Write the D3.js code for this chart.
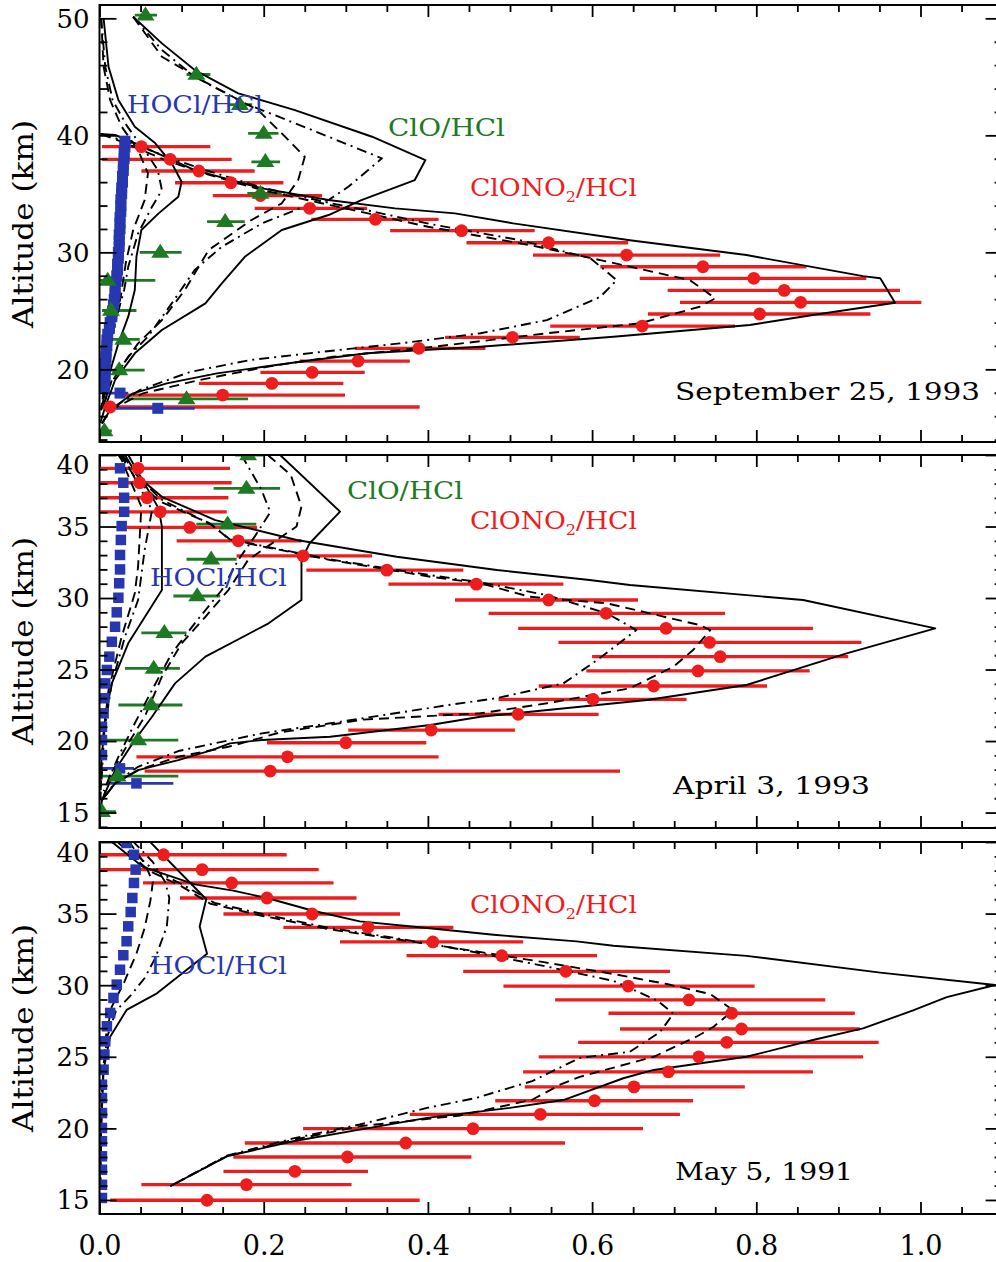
<!DOCTYPE html>
<html>
<head>
<meta charset="utf-8">
<script src="https://cdn.jsdelivr.net/npm/d3@7"></script>
<style>
  html, body { margin: 0; padding: 0; background: #ffffff; }
  svg { display: block; }
  text { font-family: "DejaVu Serif", "Liberation Serif", serif; }
</style>
</head>
<body>
<svg id="chart" width="996" height="1262"></svg>
<script>
// ---------------- axis ticks ----------------
const xTickValues = [0, 0.2, 0.4, 0.6, 0.8, 1.0];
const xTickLabels = ["0.0", "0.2", "0.4", "0.6", "0.8", "1.0"];
const sep93YTicks = [20, 30, 40, 50];
const apr93YTicks = [15, 20, 25, 30, 35, 40];
const may91YTicks = [15, 20, 25, 30, 35, 40];

// ---------------- September 25, 1993 ----------------
const sep93ClONO2Alt = [39.03, 37.95, 36.95, 35.95, 34.85, 33.76, 32.82, 31.85, 30.82, 29.77, 28.77, 27.78, 26.75, 25.73, 24.73, 23.70, 22.74, 21.80, 20.71, 19.74, 18.80, 17.80, 16.78];
const sep93ClONO2 = [0.051, 0.086, 0.121, 0.160, 0.196, 0.256, 0.336, 0.441, 0.547, 0.642, 0.735, 0.797, 0.834, 0.854, 0.804, 0.661, 0.503, 0.389, 0.315, 0.259, 0.210, 0.150, 0.013];
const sep93ClONO2Lo = [0.003, 0.003, 0.051, 0.092, 0.138, 0.189, 0.258, 0.354, 0.447, 0.528, 0.610, 0.658, 0.692, 0.707, 0.668, 0.549, 0.421, 0.311, 0.244, 0.196, 0.121, 0.031, 0.001];
const sep93ClONO2Hi = [0.135, 0.161, 0.189, 0.224, 0.271, 0.326, 0.413, 0.530, 0.644, 0.756, 0.861, 0.934, 0.975, 1.001, 0.939, 0.774, 0.585, 0.470, 0.378, 0.323, 0.297, 0.299, 0.390];

const sep93ClOAlt = [50.28, 45.20, 42.63, 40.17, 37.74, 35.04, 32.62, 30.00, 27.60, 25.03, 22.56, 19.94, 17.48, 14.73];
const sep93ClO = [0.056, 0.118, 0.171, 0.200, 0.202, 0.196, 0.153, 0.074, 0.010, 0.014, 0.029, 0.024, 0.106, 0.006];
const sep93ClOLo = [0.043, 0.106, 0.157, 0.181, 0.185, 0.180, 0.131, 0.049, 0.000, 0.003, 0.003, 0.003, 0.033, 0.000];
const sep93ClOHi = [0.070, 0.135, 0.186, 0.218, 0.220, 0.222, 0.177, 0.100, 0.068, 0.045, 0.049, 0.055, 0.181, 0.015];

const sep93HOClAlt = [39.5, 39, 38.5, 38, 37.5, 37, 36.5, 36, 35.5, 35, 34.5, 34, 33.5, 33, 32.5, 32, 31.5, 31, 30.5, 30, 29.5, 29, 28.5, 28, 27.5, 27, 26.5, 26, 25.5, 25, 24.5, 24, 23.5, 23, 22.5, 22, 21.5, 21, 20.5, 20, 19.5, 19, 18.5, 17.97, 16.67];
const sep93HOCl = [0.031, 0.031, 0.030, 0.030, 0.029, 0.029, 0.028, 0.028, 0.027, 0.027, 0.026, 0.026, 0.026, 0.025, 0.025, 0.025, 0.024, 0.024, 0.024, 0.023, 0.023, 0.022, 0.022, 0.021, 0.020, 0.019, 0.019, 0.018, 0.017, 0.016, 0.015, 0.013, 0.012, 0.010, 0.009, 0.009, 0.008, 0.008, 0.007, 0.007, 0.007, 0.006, 0.006, 0.025, 0.071];
const sep93HOClBarAlt = [17.97, 16.67];
const sep93HOClBarLo = [0.003, 0.019];
const sep93HOClBarHi = [0.035, 0.116];

const sep93ClONO2Solid = [[0.001,40.11],[0.019,40.03],[0.035,39.6],[0.116,37.03],[0.198,35.47],[0.279,34.47],[0.360,33.76],[0.433,33.33],[0.504,32.48],[0.646,31.03],[0.788,29.77],[0.930,27.97],[0.951,27.78],[0.969,25.69],[0.869,24.64],[0.792,23.79],[0.626,22.79],[0.464,21.93],[0.326,21.37],[0.244,20.65],[0.200,20.22],[0.143,19.66],[0.082,18.8],[0.041,17.95],[0.013,16.52],[0.003,15.38]];
const sep93ClONO2Dashed = [[0.002,40.11],[0.031,39.34],[0.080,37.89],[0.122,36.86],[0.198,35.32],[0.281,34.04],[0.327,33.33],[0.400,32.19],[0.524,30.62],[0.610,29.34],[0.719,27.63],[0.750,26.07],[0.731,25.35],[0.658,23.93],[0.545,23.08],[0.407,21.93],[0.285,21.08],[0.204,20.22],[0.122,19.09],[0.053,17.95],[0.013,16.52],[0.003,15.38]];
const sep93ClONO2DashDot = [[0.002,40.11],[0.035,39.43],[0.086,38.06],[0.129,37.03],[0.200,35.5],[0.281,34.21],[0.330,33.53],[0.403,32.42],[0.512,31.05],[0.598,29.49],[0.630,27.63],[0.610,26.2],[0.545,24.21],[0.464,23.08],[0.366,22.22],[0.269,21.48],[0.183,20.79],[0.110,19.77],[0.049,18.23],[0.013,16.52],[0.003,15.38]];
const sep93ClOSolid = [[0.041,50.14],[0.076,47.86],[0.116,45.58],[0.169,43.59],[0.238,42.16],[0.332,39.88],[0.397,37.89],[0.384,36.18],[0.319,34.47],[0.279,33.19],[0.222,31.91],[0.177,29.62],[0.149,27.35],[0.129,25.64],[0.076,23.36],[0.043,21.37],[0.019,19.09],[0.007,16.8],[0.001,15.41]];
const sep93ClODashed = [[0.041,50.14],[0.076,46.72],[0.130,44.5],[0.193,42.16],[0.222,40.17],[0.250,38.17],[0.242,36.18],[0.222,34.19],[0.185,32.76],[0.133,30.2],[0.104,26.78],[0.076,24.21],[0.047,22.22],[0.015,19.09],[0.003,16.5]];
const sep93ClODashDot = [[0.041,50.14],[0.076,47.29],[0.116,45.0],[0.177,42.74],[0.259,40.45],[0.344,38.03],[0.303,35.6],[0.279,34.47],[0.254,34.04],[0.198,32.48],[0.149,30.48],[0.116,28.5],[0.088,25.64],[0.059,22.79],[0.035,21.08],[0.013,18.7],[0.003,16.5]];
const sep93HOClSolid = [[0.005,50.0],[0.011,45.86],[0.023,43.02],[0.043,40.74],[0.068,39.32],[0.088,37.61],[0.100,36.03],[0.096,34.75],[0.072,33.33],[0.051,31.91],[0.045,29.62],[0.043,26.78],[0.035,24.5],[0.023,22.22],[0.011,19.37],[0.002,16.52]];
const sep93HOClDashed = [[0.002,50.0],[0.005,45.86],[0.013,43.0],[0.027,40.74],[0.047,38.74],[0.059,36.75],[0.055,34.47],[0.041,31.91],[0.032,29.09],[0.026,26.27],[0.017,23.36],[0.008,19.94],[0.002,16.5]];
const sep93HOClDashDot = [[0.002,50.0],[0.007,45.86],[0.016,43.0],[0.034,40.74],[0.055,38.74],[0.071,37.03],[0.076,35.32],[0.064,33.9],[0.047,31.62],[0.035,28.77],[0.030,26.78],[0.019,23.96],[0.009,20.37],[0.002,16.5]];

// ---------------- April 3, 1993 ----------------
const apr93ClONO2Alt = [39.07, 38.06, 37.01, 36.03, 34.94, 34.00, 32.95, 31.95, 30.97, 29.86, 28.93, 27.88, 26.90, 25.90, 24.90, 23.85, 22.92, 21.87, 20.77, 19.88, 18.90, 17.90];
const apr93ClONO2 = [0.047, 0.049, 0.058, 0.074, 0.110, 0.169, 0.248, 0.350, 0.459, 0.547, 0.617, 0.690, 0.743, 0.756, 0.729, 0.675, 0.601, 0.510, 0.404, 0.300, 0.229, 0.208];
const apr93ClONO2Lo = [0.001, 0.001, 0.001, 0.001, 0.033, 0.094, 0.167, 0.252, 0.352, 0.433, 0.474, 0.510, 0.559, 0.600, 0.593, 0.535, 0.486, 0.413, 0.303, 0.204, 0.045, 0.055];
const apr93ClONO2Hi = [0.159, 0.161, 0.157, 0.155, 0.192, 0.246, 0.332, 0.443, 0.565, 0.656, 0.762, 0.869, 0.928, 0.912, 0.865, 0.813, 0.715, 0.608, 0.506, 0.398, 0.413, 0.634];

const apr93ClOAlt = [40.00, 37.67, 35.17, 32.71, 30.14, 27.57, 25.08, 22.52, 20.07, 17.55, 15.06];
const apr93ClO = [0.181, 0.179, 0.156, 0.136, 0.119, 0.079, 0.066, 0.063, 0.047, 0.022, 0.003];
const apr93ClOLo = [0.165, 0.139, 0.118, 0.106, 0.090, 0.051, 0.031, 0.023, 0.003, 0.000, 0.000];
const apr93ClOHi = [0.200, 0.220, 0.191, 0.167, 0.147, 0.106, 0.098, 0.101, 0.096, 0.096, 0.020];

const apr93HOClAlt = [39.07, 38.06, 37.01, 36.03, 35.03, 34.06, 33.01, 32.00, 31.03, 30.02, 29.00, 27.99, 26.94, 25.90, 24.97, 24.03, 22.99, 21.94, 21.00, 20.07, 19.02, 18.09, 17.04];
const apr93HOCl = [0.025, 0.029, 0.030, 0.030, 0.027, 0.026, 0.025, 0.025, 0.024, 0.023, 0.021, 0.019, 0.015, 0.012, 0.009, 0.007, 0.006, 0.005, 0.003, 0.003, 0.003, 0.025, 0.045];
const apr93HOClBarAlt = [18.09, 17.04];
const apr93HOClBarLo = [0.003, 0.013];
const apr93HOClBarHi = [0.042, 0.090];

const apr93ClONO2Solid = [[0.031,40.0],[0.047,38.48],[0.076,37.08],[0.141,35.45],[0.240,34.06],[0.362,32.89],[0.484,31.96],[0.597,31.26],[0.646,30.91],[0.857,29.86],[1.018,27.88],[0.910,26.13],[0.788,23.92],[0.667,22.87],[0.464,21.7],[0.403,21.12],[0.281,20.3],[0.198,20.07],[0.159,19.84],[0.137,19.37],[0.096,18.67],[0.047,17.97],[0.019,17.04],[0.003,15.87],[0.000,14.7]];
const apr93ClONO2Dashed = [[0.025,40.0],[0.045,38.3],[0.072,36.8],[0.135,35.2],[0.159,34.06],[0.281,32.66],[0.403,31.49],[0.464,31.03],[0.524,30.09],[0.618,29.63],[0.731,28.11],[0.744,27.76],[0.723,26.36],[0.699,25.2],[0.646,23.69],[0.545,22.64],[0.464,21.94],[0.321,21.5],[0.220,20.6],[0.157,19.6],[0.096,18.9],[0.047,17.97],[0.019,17.04],[0.003,15.87]];
const apr93ClONO2DashDot = [[0.028,40.0],[0.048,38.4],[0.075,36.9],[0.137,35.1],[0.159,34.1],[0.281,32.7],[0.403,31.6],[0.464,31.1],[0.545,30.2],[0.618,28.93],[0.654,27.76],[0.638,27.06],[0.606,25.66],[0.565,24.03],[0.484,23.0],[0.423,22.5],[0.281,21.24],[0.198,20.54],[0.137,19.8],[0.096,19.3],[0.047,18.2],[0.019,17.1],[0.003,15.87]];
const apr93ClOSolid = [[0.220,40.0],[0.293,36.04],[0.256,33.83],[0.246,32.66],[0.246,29.86],[0.206,28.23],[0.129,25.9],[0.092,24.03],[0.064,21.7],[0.043,20.07],[0.019,17.97],[0.003,15.87]];
const apr93ClODashed = [[0.205,40.0],[0.233,38.6],[0.246,36.4],[0.240,35.0],[0.216,34.06],[0.181,32.66],[0.157,30.56],[0.129,28.69],[0.100,26.83],[0.076,24.5],[0.055,21.7],[0.035,19.84],[0.012,17.5],[0.002,15.5]];
const apr93ClODashDot = [[0.173,40.0],[0.197,37.6],[0.208,36.0],[0.189,34.29],[0.169,32.66],[0.149,30.56],[0.116,28.23],[0.088,26.13],[0.064,23.57],[0.043,21.24],[0.023,18.9],[0.005,16.5]];
const apr93HOClSolid = [[0.035,40.0],[0.072,36.27],[0.076,34.99],[0.076,30.56],[0.035,26.83],[0.015,24.03],[0.007,21.7],[0.000,17.06]];
const apr93HOClDashed = [[0.022,40.1],[0.027,39.65],[0.051,36.38],[0.047,32.19],[0.043,30.33],[0.027,27.29],[0.011,23.57],[0.004,20.07],[0.001,15.87]];
const apr93HOClDashDot = [[0.026,40.1],[0.031,39.65],[0.064,36.15],[0.055,33.36],[0.047,29.86],[0.031,27.29],[0.015,24.03],[0.006,20.77],[0.001,15.87]];

// ---------------- May 5, 1991 ----------------
const may91ClONO2Alt = [39.11, 38.07, 37.14, 36.09, 34.97, 34.04, 33.02, 32.06, 30.97, 29.94, 28.97, 28.04, 26.94, 26.01, 25.00, 23.95, 22.90, 21.93, 20.98, 19.98, 18.98, 18.00, 17.00, 16.07, 14.98];
const may91ClONO2 = [0.078, 0.125, 0.161, 0.204, 0.259, 0.327, 0.406, 0.490, 0.568, 0.644, 0.718, 0.770, 0.782, 0.764, 0.730, 0.693, 0.651, 0.603, 0.537, 0.455, 0.373, 0.302, 0.238, 0.179, 0.131];
const may91ClONO2Lo = [0.001, 0.001, 0.053, 0.098, 0.151, 0.224, 0.293, 0.374, 0.443, 0.492, 0.555, 0.620, 0.634, 0.583, 0.535, 0.516, 0.518, 0.482, 0.378, 0.248, 0.177, 0.163, 0.151, 0.051, 0.013];
const may91ClONO2Hi = [0.228, 0.267, 0.285, 0.313, 0.366, 0.431, 0.516, 0.606, 0.695, 0.798, 0.884, 0.920, 0.926, 0.949, 0.930, 0.869, 0.786, 0.723, 0.707, 0.662, 0.567, 0.453, 0.327, 0.307, 0.390];

const may91HOClAlt = [39.93, 39.11, 38.07, 37.14, 36.09, 35.11, 34.11, 33.07, 32.09, 31.08, 30.04, 29.11, 28.06, 27.13, 26.08, 25.15, 24.10, 23.05, 22.12, 21.07, 20.03, 19.10, 18.05, 17.11, 16.06, 15.14];
const may91HOCl = [0.033, 0.042, 0.044, 0.042, 0.040, 0.038, 0.035, 0.033, 0.029, 0.025, 0.021, 0.017, 0.013, 0.009, 0.007, 0.006, 0.005, 0.003, 0.003, 0.003, 0.003, 0.003, 0.003, 0.003, 0.003, 0.003];

const may91ClONO2Solid = [[0.013,40.1],[0.053,38.26],[0.116,37.04],[0.163,36.6],[0.204,36.09],[0.260,35.2],[0.317,34.46],[0.399,33.99],[0.480,33.52],[0.581,33.06],[0.626,32.75],[0.788,32.05],[0.951,30.88],[1.091,30.01],[1.032,29.17],[0.991,28.24],[0.930,26.98],[0.869,26.17],[0.788,25.0],[0.675,24.08],[0.638,23.5],[0.565,21.98],[0.500,21.43],[0.399,20.73],[0.317,19.91],[0.236,19.1],[0.155,18.05],[0.086,15.96]];
const may91ClONO2Dashed = [[0.020,40.1],[0.060,38.0],[0.100,36.9],[0.135,35.69],[0.196,34.87],[0.277,33.94],[0.358,33.24],[0.439,32.54],[0.541,31.61],[0.626,30.78],[0.691,30.08],[0.744,29.38],[0.772,28.24],[0.748,27.1],[0.727,26.4],[0.675,25.0],[0.585,23.6],[0.561,23.05],[0.527,22.0],[0.439,20.9],[0.317,20.15],[0.236,19.2],[0.155,18.05],[0.086,15.96]];
const may91ClONO2DashDot = [[0.025,40.1],[0.065,38.1],[0.105,36.9],[0.140,35.75],[0.200,34.95],[0.280,34.0],[0.360,33.3],[0.440,32.5],[0.545,31.3],[0.626,30.3],[0.679,28.94],[0.699,28.02],[0.683,26.74],[0.646,25.35],[0.585,24.92],[0.527,23.3],[0.459,22.13],[0.399,21.43],[0.317,20.27],[0.236,19.3],[0.155,18.1],[0.086,15.96]];
const may91HOClSolid = [[0.060,40.1],[0.130,36.0],[0.122,34.1],[0.131,32.2],[0.070,29.43],[0.033,28.27],[0.013,26.4],[0.005,24.1],[0.002,20.0],[0.000,16.0]];
const may91HOClDashed = [[0.035,40.1],[0.055,38.5],[0.065,37.2],[0.062,35.9],[0.055,34.0],[0.045,32.2],[0.030,30.2],[0.015,28.5],[0.008,26.5],[0.004,24.0],[0.002,20.0],[0.001,16.0]];
const may91HOClDashDot = [[0.040,40.1],[0.065,38.6],[0.080,37.2],[0.085,36.1],[0.082,34.1],[0.068,31.9],[0.055,30.5],[0.039,29.35],[0.020,28.2],[0.010,26.5],[0.005,24.5],[0.002,21.0],[0.001,16.0]];

// ---------------- styling ----------------
const RED = "#ee1d1d";
const GREEN = "#1d7a22";
const BLUE = "#2737b0";
const dashStyles = { solid: null, dashed: "10,6", dashdot: "10,5,2,5" };

// ---------------- layout ----------------
const svg = d3.select("#chart");
const defs = svg.append("defs");
const x = d3.scaleLinear().domain([0, 1.1]).range([99.5, 1002.6]);

const panels = [
  {
    id: "sep93", top: 5, bottom: 442, domain: [13.79, 51.14],
    yMajor: sep93YTicks, yMinor: d3.range(14, 51.5, 2), topNudge: 0, square: 11,
    red: { alt: sep93ClONO2Alt, v: sep93ClONO2, lo: sep93ClONO2Lo, hi: sep93ClONO2Hi },
    green: { alt: sep93ClOAlt, v: sep93ClO, lo: sep93ClOLo, hi: sep93ClOHi },
    blue: { alt: sep93HOClAlt, v: sep93HOCl },
    blueBars: { alt: sep93HOClBarAlt, lo: sep93HOClBarLo, hi: sep93HOClBarHi },
    curves: [
      [sep93ClONO2Solid, "solid"], [sep93ClONO2Dashed, "dashed"], [sep93ClONO2DashDot, "dashdot"],
      [sep93ClOSolid, "solid"], [sep93ClODashed, "dashed"], [sep93ClODashDot, "dashdot"],
      [sep93HOClSolid, "solid"], [sep93HOClDashed, "dashed"], [sep93HOClDashDot, "dashdot"]
    ],
    labels: [
      { kind: "HOCl", x: 127, y: 113, len: 136 },
      { kind: "ClO", x: 388, y: 136, len: 117 },
      { kind: "ClONO2", x: 470, y: 196, len: 167 },
      { kind: "date", text: "September 25, 1993", x: 675, y: 400, len: 305 }
    ],
    yTitle: 224
  },
  {
    id: "apr93", top: 455, bottom: 828, domain: [13.92, 40.0],
    yMajor: apr93YTicks, yMinor: d3.range(14, 40.5, 1), topNudge: 10, square: 10.5,
    red: { alt: apr93ClONO2Alt, v: apr93ClONO2, lo: apr93ClONO2Lo, hi: apr93ClONO2Hi },
    green: { alt: apr93ClOAlt, v: apr93ClO, lo: apr93ClOLo, hi: apr93ClOHi },
    blue: { alt: apr93HOClAlt, v: apr93HOCl },
    blueBars: { alt: apr93HOClBarAlt, lo: apr93HOClBarLo, hi: apr93HOClBarHi },
    curves: [
      [apr93ClONO2Solid, "solid"], [apr93ClONO2Dashed, "dashed"], [apr93ClONO2DashDot, "dashdot"],
      [apr93ClOSolid, "solid"], [apr93ClODashed, "dashed"], [apr93ClODashDot, "dashdot"],
      [apr93HOClSolid, "solid"], [apr93HOClDashed, "dashed"], [apr93HOClDashDot, "dashdot"]
    ],
    labels: [
      { kind: "ClO", x: 347, y: 499, len: 116 },
      { kind: "ClONO2", x: 470, y: 529, len: 167 },
      { kind: "HOCl", x: 150, y: 586, len: 137 },
      { kind: "date", text: "April 3, 1993", x: 673, y: 794, len: 197 }
    ],
    yTitle: 641
  },
  {
    id: "may91", top: 842, bottom: 1214, domain: [14.02, 40.0],
    yMajor: may91YTicks, yMinor: d3.range(15, 40.5, 1), topNudge: 11, square: 10.5,
    red: { alt: may91ClONO2Alt, v: may91ClONO2, lo: may91ClONO2Lo, hi: may91ClONO2Hi },
    green: null,
    blue: { alt: may91HOClAlt, v: may91HOCl },
    blueBars: null,
    curves: [
      [may91ClONO2Solid, "solid"], [may91ClONO2Dashed, "dashed"], [may91ClONO2DashDot, "dashdot"],
      [may91HOClSolid, "solid"], [may91HOClDashed, "dashed"], [may91HOClDashDot, "dashdot"]
    ],
    labels: [
      { kind: "ClONO2", x: 470, y: 913, len: 167 },
      { kind: "HOCl", x: 150, y: 974, len: 137 },
      { kind: "date", text: "May 5, 1991", x: 675, y: 1180, len: 178 }
    ],
    yTitle: 1028,
    xLabels: true
  }
];

// upward-pointing triangle with the data point slightly below its middle
function trianglePath(w, h) {
  return `M0,${-h * 0.62}L${w / 2},${h * 0.38}L${-w / 2},${h * 0.38}Z`;
}

function styleTicks(g) {
  g.select(".domain").remove();
  g.selectAll(".tick line").attr("stroke", "#000").attr("stroke-width", 1.8);
}

function drawPanel(p) {
  const y = d3.scaleLinear().domain(p.domain).range([p.bottom, p.top]);
  const [x0, x1] = x.range();
  const clipId = "clip-" + p.id;
  defs.append("clipPath").attr("id", clipId)
    .append("rect").attr("x", x0).attr("y", p.top).attr("width", x1 - x0).attr("height", p.bottom - p.top);

  const plot = svg.append("g").attr("clip-path", `url(#${clipId})`);

  // horizontal error bars
  function errorBars(s, color, width) {
    const idx = d3.range(s.alt.length).filter(i => s.hi[i] > s.lo[i]);
    plot.append("g").selectAll("line").data(idx).join("line")
      .attr("x1", i => x(s.lo[i])).attr("x2", i => x(s.hi[i]))
      .attr("y1", i => y(s.alt[i])).attr("y2", i => y(s.alt[i]))
      .attr("stroke", color).attr("stroke-width", width);
  }
  errorBars(p.red, RED, 3.3);
  if (p.green) errorBars(p.green, GREEN, 2.8);
  if (p.blueBars) errorBars(p.blueBars, BLUE, 2.8);

  // model profiles
  const line = d3.line().x(d => x(d[0])).y(d => y(d[1]));
  plot.append("g").selectAll("path").data(p.curves).join("path")
    .attr("d", d => line(d[0]))
    .attr("fill", "none").attr("stroke", "#000").attr("stroke-width", 1.9)
    .attr("stroke-linejoin", "round")
    .attr("stroke-dasharray", d => dashStyles[d[1]]);

  // HOCl/HCl squares
  const sq = p.square;
  plot.append("g").selectAll("rect").data(d3.range(p.blue.alt.length)).join("rect")
    .attr("x", i => x(p.blue.v[i]) - sq / 2).attr("y", i => y(p.blue.alt[i]) - sq / 2)
    .attr("width", sq).attr("height", sq).attr("fill", BLUE);

  // ClONO2/HCl circles
  plot.append("g").selectAll("circle").data(d3.range(p.red.alt.length)).join("circle")
    .attr("cx", i => x(p.red.v[i])).attr("cy", i => y(p.red.alt[i]))
    .attr("r", 6.4).attr("fill", RED);

  // ClO/HCl triangles
  if (p.green) {
    plot.append("g").selectAll("path").data(d3.range(p.green.alt.length)).join("path")
      .attr("d", trianglePath(18, 14))
      .attr("transform", i => `translate(${x(p.green.v[i])},${y(p.green.alt[i])})`)
      .attr("fill", GREEN);
  }

  // frame
  svg.append("rect").attr("x", x0).attr("y", p.top).attr("width", x1 - x0).attr("height", p.bottom - p.top)
    .attr("fill", "none").attr("stroke", "#000").attr("stroke-width", 2);

  // x ticks (inward, top and bottom)
  const xMinor = d3.range(0, 1.1001, 0.05).filter(v => !xTickValues.some(t => Math.abs(t - v) < 1e-6));
  [[p.bottom, d3.axisTop], [p.top, d3.axisBottom]].forEach(([pos, ax]) => {
    svg.append("g").attr("transform", `translate(0,${pos})`)
      .call(ax(x).tickValues(xMinor).tickSize(7).tickFormat("")).call(styleTicks);
    svg.append("g").attr("transform", `translate(0,${pos})`)
      .call(ax(x).tickValues(xTickValues).tickSize(12).tickFormat("")).call(styleTicks);
  });

  // y ticks (inward, left and right)
  const yMinor = p.yMinor.filter(v => !p.yMajor.includes(v));
  [[x0, d3.axisRight], [x1, d3.axisLeft]].forEach(([pos, ax]) => {
    svg.append("g").attr("transform", `translate(${pos},0)`)
      .call(ax(y).tickValues(yMinor).tickSize(8).tickFormat("")).call(styleTicks);
    svg.append("g").attr("transform", `translate(${pos},0)`)
      .call(ax(y).tickValues(p.yMajor).tickSize(17).tickFormat("")).call(styleTicks);
  });

  // y tick labels; the top label of the lower panels sits just inside the frame
  const yl = svg.append("g").attr("transform", `translate(${x0},0)`)
    .call(d3.axisLeft(y).tickValues(p.yMajor).tickSize(0).tickPadding(10).tickFormat(d3.format("d")));
  yl.select(".domain").remove();
  yl.selectAll("text").attr("font-family", "DejaVu Serif").attr("font-size", 26).attr("fill", "#000")
    .attr("dy", "0.34em")
    .attr("transform", d => (d === 40 && p.topNudge ? `translate(0,${p.topNudge})` : null));

  // x tick labels (bottom panel only)
  if (p.xLabels) {
    const xl = svg.append("g").attr("transform", `translate(0,${p.bottom})`)
      .call(d3.axisBottom(x).tickValues(xTickValues).tickSize(0).tickPadding(22)
        .tickFormat((d, i) => xTickLabels[i]));
    xl.select(".domain").remove();
    xl.selectAll("text").attr("font-family", "DejaVu Serif").attr("font-size", 27).attr("fill", "#000");
  }

  // axis title
  svg.append("text")
    .attr("transform", `translate(33,${p.yTitle}) rotate(-90)`)
    .attr("text-anchor", "middle").attr("font-size", 28).attr("textLength", 208)
    .attr("lengthAdjust", "spacingAndGlyphs").attr("fill", "#000")
    .text("Altitude (km)");

  // species and date labels
  p.labels.forEach(l => {
    const t = svg.append("text").attr("x", l.x).attr("y", l.y).attr("font-size", 25)
      .attr("textLength", l.len).attr("lengthAdjust", "spacingAndGlyphs");
    if (l.kind === "HOCl") t.attr("fill", BLUE).text("HOCl/HCl");
    else if (l.kind === "ClO") t.attr("fill", GREEN).text("ClO/HCl");
    else if (l.kind === "ClONO2") {
      t.attr("fill", RED);
      t.append("tspan").text("ClONO");
      t.append("tspan").attr("font-size", 15).attr("dy", 6).text("2");
      t.append("tspan").attr("dy", -6).text("/HCl");
    } else t.attr("fill", "#000").attr("font-size", 24).text(l.text);
  });
}

panels.forEach(drawPanel);
</script>
</body>
</html>
